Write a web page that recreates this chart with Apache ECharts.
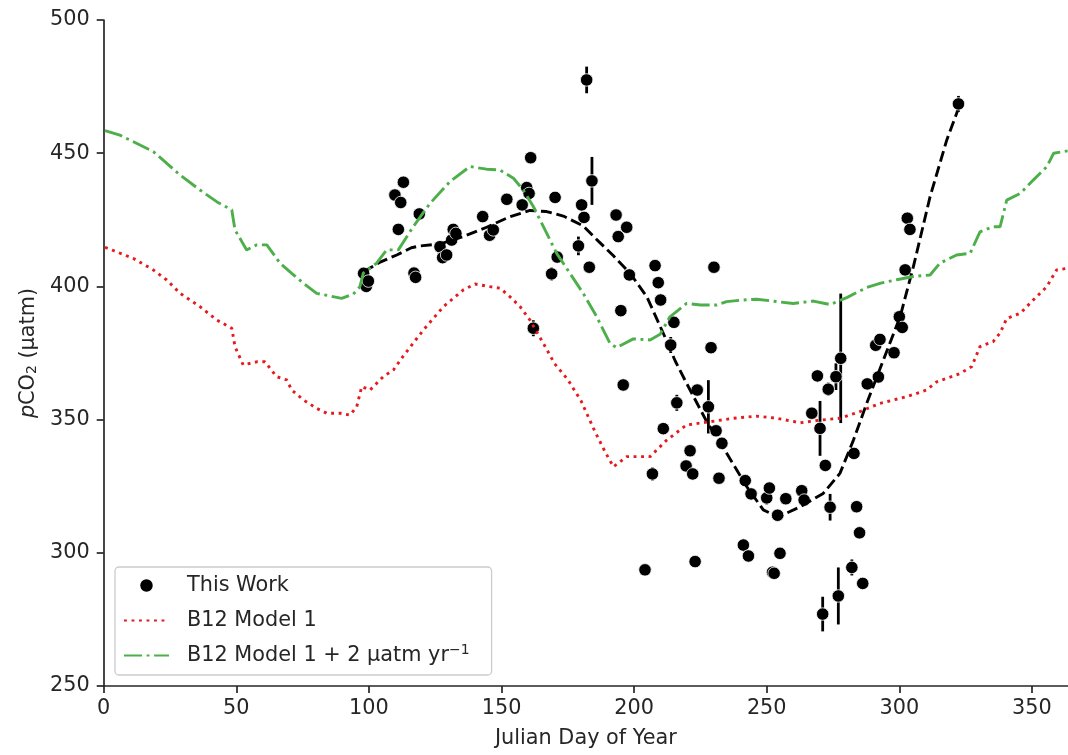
<!DOCTYPE html>
<html>
<head>
<meta charset="utf-8">
<script src="https://cdn.jsdelivr.net/npm/echarts@6/dist/echarts.min.js"></script>
<style>
html,body{margin:0;padding:0;background:#fff;}
#chart{width:1068px;height:755px;}
</style>
</head>
<body>
<div id="chart"></div>
<script>
// ---- Data ----
const xTicks = [0, 50, 100, 150, 200, 250, 300, 350];
const yTicks = [250, 300, 350, 400, 450, 500];

// This Work: day of year, pCO2, error (half-length of bar)
const obsDay = [98.0, 99.0, 99.8, 109.8, 111.1, 112.0, 113.0, 117.0, 117.6, 119.0,
  126.8, 127.8, 129.3, 131.2, 131.8, 132.8, 142.9, 145.5, 146.9,
  152.0, 157.8, 159.5, 160.4, 161.0, 162.0, 168.9, 170.2, 171.0,
  179.0, 180.2, 181.1, 182.1, 183.1, 184.1,
  193.2, 194.0, 195.0, 195.9, 197.2, 198.2,
  204.1, 206.9, 207.9, 209.1, 210.0, 211.0, 213.8, 215.0, 216.1,
  219.6, 221.1, 222.1, 223.0, 223.8,
  228.0, 229.0, 230.1, 230.9, 232.0, 233.1,
  241.2, 241.9, 243.1, 244.1,
  250.0, 251.0, 252.2, 252.8, 254.1, 255.0, 257.2, 263.2, 264.1,
  267.0, 269.1, 270.1, 271.1, 272.1, 273.2, 273.9, 276.1, 277.0, 277.9,
  282.1, 282.9, 283.9, 285.0, 286.2, 287.9,
  291.1, 292.1, 292.7, 298.0, 300.0, 301.1, 302.2, 303.0, 304.0, 322.3];
const obsPco2 = [404.9, 400.0, 402.0, 434.3, 421.4, 431.5, 439.1, 405.0, 403.4, 427.2,
  414.9, 410.8, 411.8, 417.4, 421.4, 419.9, 426.2, 419.2, 421.2,
  432.7, 430.6, 437.1, 434.9, 448.3, 384.3, 404.7, 433.4, 411.0,
  415.2, 430.6, 425.9, 477.5, 407.2, 439.6,
  426.8, 418.7, 390.9, 363.0, 422.2, 404.3,
  293.6, 329.6, 407.8, 401.4, 394.9, 346.6, 378.0, 386.5, 356.3,
  332.6, 338.3, 329.6, 296.7, 361.1,
  354.8, 377.0, 407.2, 345.8, 328.0, 341.1,
  302.9, 327.1, 298.8, 322.1,
  320.6, 324.3, 292.7, 292.3, 314.1, 299.8, 320.3, 323.3, 319.8,
  352.4, 366.4, 346.7, 277.0, 332.8, 361.4, 317.1, 366.1, 283.8, 373.0,
  294.5, 337.3, 317.3, 307.5, 288.5, 363.4,
  377.9, 366.0, 380.1, 375.1, 388.6, 384.6, 406.2, 425.6, 421.4, 468.5];
const obsErr = [1.5, 1.5, 1.5, 1, 1, 1, 1, 1, 1, 1,
  1.5, 1.5, 1.5, 1, 1, 1, 1, 1.5, 1,
  2, 1, 1, 1.5, 1, 3, 2.5, 1, 1,
  3.5, 1, 1.5, 5, 1, 9,
  2, 1, 1, 1, 2, 1.5,
  1, 2.5, 1, 1, 1, 1, 3, 2, 3,
  1, 1, 1, 1, 1,
  10, 1, 1, 1, 1, 1.5,
  1.5, 1, 1, 1,
  2.5, 1, 1, 1, 1, 2, 1, 1, 1,
  1, 1, 10.3, 6.5, 1, 2.5, 5, 5, 10.7, 24.3,
  3, 1, 1, 1, 1, 1,
  2, 1.5, 2, 1, 1.5, 1, 1, 1, 1, 3];

// Fit (black dashed)
const fitDay = [98, 104, 110.5, 116, 119.3, 126.8, 135.6, 144.4, 153.2, 160.7, 167, 173.3, 180.8, 186.5,
  192.2, 198.5, 204.8, 211, 215.5, 219.8, 227.4, 234.9, 242.5, 248.7, 254.4, 262.6, 271.3, 277.6,
  282.7, 287.7, 294, 300.3, 305.3, 311.6, 317.9, 322];
const fitPco2 = [405.5, 409, 411.8, 414.5, 415.2, 415.9, 418.7, 422.2, 426.2, 428.5, 428.1, 426.4, 422.7, 417,
  411.5, 404.9, 396.1, 382.4, 372, 363.6, 349.2, 337.4, 324.8, 316.1, 313.4, 317.3, 322.3, 329.8,
  342.3, 356.1, 372.4, 388.6, 407.4, 433.7, 455, 466];

// B12 Model 1 (red dotted)
const m1Day = [0.5, 11.2, 18.7, 23.8, 28.8, 36.3, 42.6, 48.3, 49.5, 52.6, 57.7, 60.8, 65.2, 69, 70.9, 75.3,
  80.3, 84.1, 89.1, 92.9, 95.4, 97.3, 100.4, 105.4, 109.2, 113, 120.5, 128.1, 135.6, 140, 145.7, 149.5,
  153.2, 157, 160.7, 165.8, 170, 175, 180, 185, 189, 192.2, 197.2, 206, 212.3, 219.8, 228.6, 237.4,
  246.2, 253.8, 262.6, 270.1, 277.6, 285.1, 292.7, 302.8, 310.3, 314.1, 322.9, 327.3, 330.4, 335.4,
  338, 340.5, 345.6, 350.5, 355.6, 359.3, 363.6];
const m1Pco2 = [414.7, 410.5, 406.2, 402.4, 397.4, 392.4, 387.4, 384.3, 377.4, 370.5, 371.7, 371.7, 366.1, 364.9, 361.1, 357.4,
  354.2, 352.4, 352.4, 351.7, 354.8, 362.4, 361.1, 366.1, 368.6, 373.9, 383.6, 392.4, 398.7, 400.9, 399.9, 399.3,
  396.1, 392.4, 387.4, 378.6, 371, 365, 357, 346, 338, 332.3, 336.1, 336.1, 342.3, 348, 349.2, 350.5,
  351.3, 350.5, 348.8, 349.8, 350.5, 353, 356.1, 358.6, 361.1, 364.2, 367.3, 369.9, 377.4, 379.3,
  382.5, 388, 389.9, 394.9, 399.9, 406.2, 406.8];

// B12 Model 1 + 2 µatm/yr (green dash-dot)
const m2Day = [0.5, 6.1, 11.2, 18.7, 23.8, 28.8, 36.3, 42.6, 48.3, 49.5, 53.9, 57.7, 61.5, 66.5, 70.9, 75.3,
  80.3, 85.3, 89.7, 94.1, 96.6, 97.9, 102.9, 106.7, 111.1, 116.7, 123, 130.6, 138.1, 144.4, 149.4, 154.5,
  158.2, 162, 165.8, 170.8, 175.8, 180.8, 185.9, 190.9, 193.4, 199.7, 206, 209.8, 213.5, 219.8, 225.1,
  231.1, 234.9, 241.2, 246.2, 253.8, 260, 267.6, 273.9, 280.2, 287.7, 293, 299, 305.3, 311.6, 315.3,
  321.6, 326.7, 330.4, 335.4, 338, 340.5, 345.6, 350.5, 355.6, 358.2, 363.6];
const m2Pco2 = [458.5, 456.8, 454.3, 450.6, 446.2, 441.8, 436.2, 431.8, 428.7, 421.2, 413.7, 415.6, 415.6, 408.7, 404.9, 401.2,
  397.4, 396.4, 395.5, 397.1, 399.9, 405, 408.7, 413.7, 413.7, 422.4, 431.1, 439.4, 445, 444, 443.7, 440.6,
  436.2, 430, 422.4, 412.4, 404.9, 397.4, 388.6, 378.6, 377, 380.3, 379.9, 382, 388.6, 393.6, 393,
  393, 394.3, 394.9, 395.2, 394.3, 393.6, 394.5, 393.2, 395.8, 399.6, 401.2, 402.5, 403.7, 404.3, 408.7,
  411.8, 412.4, 420.5, 422.4, 422.4, 432.4, 434.9, 439.9, 444.9, 450, 450.9];

// ---- Chart ----
const FONT = 'DejaVu Sans';
const TXT = '#262626';
const FS = 20.8;
const zip = (a, b) => a.map((v, i) => [v, b[i]]);
const errData = obsDay.map((d, i) => [d, obsPco2[i] - obsErr[i], obsPco2[i] + obsErr[i]]);

const chart = echarts.init(document.getElementById('chart'), null, {renderer: 'canvas'});
chart.setOption({
  animation: false,
  backgroundColor: '#ffffff',
  textStyle: {fontFamily: FONT, color: TXT},
  grid: {left: 103.7, right: 0, top: 20, bottom: 69, containLabel: false},
  xAxis: {
    type: 'value', min: xTicks[0], max: 363.6, interval: 50,
    name: 'Julian Day of Year', nameLocation: 'middle', nameGap: 42,
    nameTextStyle: {fontFamily: FONT, fontSize: FS, color: TXT},
    axisLine: {show: true, onZero: false, lineStyle: {color: TXT, width: 1.7}},
    axisTick: {show: true, inside: false, length: 7, lineStyle: {color: TXT, width: 1.7}},
    axisLabel: {show: true, margin: 12, fontFamily: FONT, fontSize: FS, color: TXT, showMaxLabel: false,
      formatter: v => (xTicks.indexOf(v) >= 0 ? String(v) : '')},
    splitLine: {show: false}
  },
  yAxis: {
    type: 'value', min: yTicks[0], max: yTicks[yTicks.length - 1], interval: 50,
    name: '{i|p}CO{sub|2} (µatm)', nameLocation: 'middle', nameGap: 60, nameRotate: 90,
    nameTextStyle: {fontFamily: FONT, fontSize: FS, color: TXT,
      rich: {
        i: {fontFamily: FONT, fontSize: FS, fontStyle: 'italic', color: TXT},
        sub: {fontFamily: FONT, fontSize: 14, color: TXT, verticalAlign: 'bottom', padding: [8, 0, 0, 0]}
      }},
    axisLine: {show: true, onZero: false, lineStyle: {color: TXT, width: 1.7}},
    axisTick: {show: true, inside: false, length: 7, lineStyle: {color: TXT, width: 1.7}},
    axisLabel: {show: true, margin: 14, fontFamily: FONT, fontSize: FS, color: TXT},
    splitLine: {show: false}
  },
  legend: {
    orient: 'vertical', left: 115, top: 567,
    padding: [6, 22, 7, 8],
    itemWidth: 45, itemHeight: 12.5, itemGap: 10,
    backgroundColor: '#ffffff', borderColor: '#cccccc', borderWidth: 1.3, borderRadius: 4,
    textStyle: {fontFamily: FONT, fontSize: FS, color: TXT, lineHeight: 25, padding: [0, 0, 0, 13],
      rich: {sup: {fontFamily: FONT, fontSize: 14, color: TXT, verticalAlign: 'top', lineHeight: 16}}},
    data: [
      {name: 'This Work', icon: 'circle', itemStyle: {color: '#000000', borderWidth: 0}},
      {name: 'B12 Model 1', itemStyle: {opacity: 0, borderWidth: 0}},
      {name: 'B12 Model 1 + 2 µatm yr', itemStyle: {opacity: 0, borderWidth: 0}}
    ],
    formatter: function (name) {
      if (name === 'B12 Model 1 + 2 µatm yr') return 'B12 Model 1 + 2 µatm yr{sup|−1}';
      return name;
    }
  },
  series: [
    {
      type: 'custom', name: 'errors', z: 2,
      data: errData, encode: {x: 0, y: [1, 2]},
      renderItem: function (params, api) {
        const p1 = api.coord([api.value(0), api.value(1)]);
        const p2 = api.coord([api.value(0), api.value(2)]);
        return {type: 'line', shape: {x1: p1[0], y1: p1[1], x2: p2[0], y2: p2[1]},
          style: {stroke: '#000000', lineWidth: 2.8}};
      }
    },
    {
      type: 'scatter', name: 'This Work', z: 3,
      data: zip(obsDay, obsPco2), symbol: 'circle', symbolSize: 12.5,
      itemStyle: {color: '#000000', borderColor: '#ffffff', borderWidth: 0.8, opacity: 1}
    },
    {
      type: 'line', name: 'fit', z: 4, data: zip(fitDay, fitPco2), showSymbol: false, symbol: 'none',
      lineStyle: {color: '#000000', width: 2.9, type: [11, 4.8]}
    },
    {
      type: 'line', name: 'B12 Model 1', z: 5, data: zip(m1Day, m1Pco2), showSymbol: false, symbol: 'none',
      itemStyle: {color: '#e41a1c'},
      lineStyle: {color: '#e41a1c', width: 2.9, type: [2.9, 4.6]}
    },
    {
      type: 'line', name: 'B12 Model 1 + 2 µatm yr', z: 6, data: zip(m2Day, m2Pco2), showSymbol: false, symbol: 'none',
      itemStyle: {color: '#4daf4a'},
      lineStyle: {color: '#4daf4a', width: 2.9, type: [18, 4.6, 2.9, 4.6]}
    }
  ]
});
</script>
</body>
</html>
